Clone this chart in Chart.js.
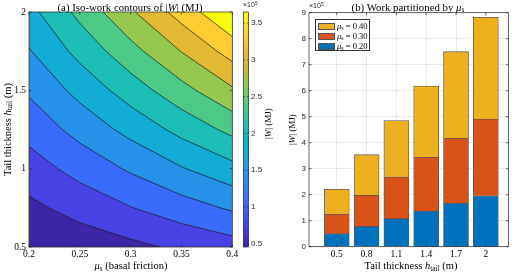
<!DOCTYPE html>
<html><head><meta charset="utf-8">
<script src="https://cdn.jsdelivr.net/npm/chart.js@4.4.1/dist/chart.umd.min.js"></script>
<style>
html,body{margin:0;padding:0;background:#fff;}
#wrap{position:relative;width:515px;height:273px;overflow:hidden;background:#fff;}
canvas{position:absolute;left:0;top:0;}
.t{position:absolute;font-family:"Liberation Serif","Times New Roman",serif;color:#000;white-space:nowrap;line-height:1;}
.s{position:absolute;font-family:"Liberation Sans",Arial,sans-serif;color:#262626;white-space:nowrap;line-height:1;}
.c{transform:translate(-50%,-50%);}
.v{writing-mode:vertical-rl;transform:rotate(180deg);text-align:center;line-height:12px;width:12px;}
sub{font-size:70%;vertical-align:-0.25em;line-height:0;}
sup{font-size:70%;vertical-align:0.5em;line-height:0;}
#leg{position:absolute;left:315px;top:19px;width:55px;height:32px;border:0.8px solid #333;background:#fff;box-sizing:border-box;}
.sw{position:absolute;left:2px;width:17px;height:7px;border:0.6px solid #555;box-sizing:border-box;}
.lt{position:absolute;left:21px;font-family:"Liberation Serif",serif;font-size:8.5px;line-height:1;white-space:nowrap;}
</style></head><body>
<div id="wrap">
<canvas id="cContour" width="515" height="273"></canvas>
<canvas id="cBar" width="515" height="273"></canvas>
<canvas id="cColorbar" width="515" height="273"></canvas>

<div class="t c" style="left:130px;top:7px;font-size:10.8px;">(a) Iso-work contours of |<i>W</i>| (MJ)</div>
<div class="t v" style="left:2px;top:30px;height:200px;font-size:10.5px;">Tail thickness <i>h</i><sub>tail</sub> (m)</div>
<div class="t c" style="left:131px;top:266px;font-size:10.5px;"><i>μ</i><sub>s</sub> (basal friction)</div>
<div class="s" style="left:243px;top:1px;font-size:7px;">×10<sup>5</sup></div>
<div class="t v" style="left:262px;top:74px;height:100px;font-size:9px;">|<i>W</i>| (MJ)</div>

<div class="t c" style="left:408px;top:7px;font-size:10.8px;">(b) Work partitioned by <i>μ</i><sub>s</sub></div>
<div class="s" style="left:309px;top:2px;font-size:7px;">×10<sup>5</sup></div>
<div class="t v" style="left:286px;top:80px;height:100px;font-size:9px;">|<i>W</i>| (MJ)</div>
<div class="t c" style="left:411px;top:266px;font-size:10.5px;">Tail thickness <i>h</i><sub>tail</sub> (m)</div>

<div id="leg">
  <div class="sw" style="top:2.5px;background:#EDB120;"></div><div class="lt" style="top:2px;"><i>μ</i><sub>s</sub> = 0.40</div>
  <div class="sw" style="top:12.5px;background:#D95319;"></div><div class="lt" style="top:12px;"><i>μ</i><sub>s</sub> = 0.30</div>
  <div class="sw" style="top:22.5px;background:#0072BD;"></div><div class="lt" style="top:22px;"><i>μ</i><sub>s</sub> = 0.20</div>
</div>
</div>
<script>
// ---------------- DATA ----------------
// Panel (a): sampled |W| field (x1e5 MJ); rows = hGrid, cols = muGrid
const muGrid = [0.2, 0.25, 0.3, 0.35, 0.4];
const hGrid  = [0.5, 0.75, 1.0, 1.25, 1.5, 1.75, 2.0];
const workGrid = [
  [0.46, 0.57, 0.68, 0.80, 0.91],
  [0.68, 0.86, 1.03, 1.20, 1.37],
  [0.91, 1.14, 1.37, 1.60, 1.82],
  [1.14, 1.43, 1.71, 2.00, 2.28],
  [1.37, 1.71, 2.05, 2.39, 2.74],
  [1.60, 2.00, 2.39, 2.79, 3.19],
  [1.82, 2.28, 2.74, 3.19, 3.65]
];
const contourLevels = [0.75, 1.04, 1.33, 1.62, 1.91, 2.20, 2.49, 2.78, 3.07, 3.36];
const colorLimits = [0.456, 3.65];
const muTicks = [0.2, 0.25, 0.3, 0.35, 0.4];
const muTickLabels = ['0.2', '0.25', '0.3', '0.35', '0.4'];
const hTicks = [0.5, 1, 1.5, 2];
const hTickLabels = ['0.5', '1', '1.5', '2'];
const colorbarTicks = [0.5, 1, 1.5, 2, 2.5, 3, 3.5];
const colorbarTickLabels = ['0.5', '1', '1.5', '2', '2.5', '3', '3.5'];

// Panel (b): stacked work per mu_s (x1e5 MJ)
const hTail = [0.5, 0.8, 1.1, 1.4, 1.7, 2.0];
const hTailLabels = ['0.5', '0.8', '1.1', '1.4', '1.7', '2'];
const workMu020 = [0.50, 0.78, 1.08, 1.37, 1.67, 1.96];
const workMu030 = [0.745, 1.20, 1.61, 2.07, 2.50, 2.95];
const workMu040 = [0.965, 1.56, 2.16, 2.74, 3.33, 3.91];
const barTicks = [0, 1, 2, 3, 4, 5, 6, 7, 8, 9];

// ---------------- STYLE ----------------
const parulaStops = [
  [0.00, [62, 38, 168]], [0.05, [69, 52, 200]], [0.10, [71, 66, 228]], [0.15, [68, 88, 246]],
  [0.20, [58, 108, 252]], [0.25, [46, 128, 246]], [0.30, [38, 146, 234]], [0.35, [29, 160, 222]],
  [0.40, [18, 172, 212]], [0.45, [10, 182, 198]], [0.50, [28, 189, 180]], [0.55, [46, 196, 160]],
  [0.60, [76, 200, 135]], [0.65, [110, 204, 110]], [0.70, [150, 200, 80]], [0.75, [190, 190, 55]],
  [0.80, [225, 185, 50]], [0.85, [248, 190, 55]], [0.90, [254, 205, 50]], [0.95, [245, 230, 35]],
  [1.00, [249, 251, 14]]
];
function parula(t) {
  t = Math.max(0, Math.min(1, t));
  for (let i = 0; i < parulaStops.length - 1; i++) {
    const [t0, c0] = parulaStops[i], [t1, c1] = parulaStops[i + 1];
    if (t <= t1) {
      const f = (t - t0) / (t1 - t0);
      const c = c0.map((v, k) => Math.round(v + f * (c1[k] - v)));
      return `rgb(${c[0]},${c[1]},${c[2]})`;
    }
  }
  const c = parulaStops[parulaStops.length - 1][1];
  return `rgb(${c[0]},${c[1]},${c[2]})`;
}
const nBands = contourLevels.length + 1;
const bandColors = Array.from({length: nBands}, (_, k) => parula(k / (nBands - 1)));

const AX = '#262626';
const GRID = 'rgba(38,38,38,0.13)';
const serif = {family: '"Liberation Serif","Times New Roman",serif', size: 9.5};
const sans = {family: '"Liberation Sans",Arial,sans-serif', size: 8};

// box + inward ticks plugin
const boxPlugin = {
  id: 'box',
  afterDraw(chart, args, opts) {
    const {ctx, chartArea: a} = chart;
    ctx.save();
    ctx.strokeStyle = AX; ctx.lineWidth = 0.7;
    ctx.strokeRect(a.left, a.top, a.right - a.left, a.bottom - a.top);
    const len = opts.len || 2.5;
    for (const id of Object.keys(chart.scales)) {
      const s = chart.scales[id];
      if (s.options.display === false) continue;
      ctx.beginPath();
      s.ticks.forEach(t => {
        const p = s.getPixelForValue(t.value);
        if (s.isHorizontal()) {
          ctx.moveTo(p, a.bottom); ctx.lineTo(p, a.bottom - len);
          ctx.moveTo(p, a.top); ctx.lineTo(p, a.top + len);
        } else {
          ctx.moveTo(a.left, p); ctx.lineTo(a.left + len, p);
          ctx.moveTo(a.right, p); ctx.lineTo(a.right - len, p);
        }
      });
      ctx.stroke();
    }
    ctx.restore();
  }
};

// ---------------- CONTOUR (a) ----------------
function contourLine(L) {
  const pts = [];
  for (let j = 0; j < muGrid.length; j++) {
    for (let i = 0; i < hGrid.length - 1; i++) {
      const a = workGrid[i][j], b = workGrid[i + 1][j];
      if ((a - L) * (b - L) <= 0 && a !== b) {
        const f = (L - a) / (b - a);
        pts.push({x: muGrid[j], y: hGrid[i] + f * (hGrid[i + 1] - hGrid[i])});
      }
    }
  }
  for (let i = 0; i < hGrid.length; i++) {
    for (let j = 0; j < muGrid.length - 1; j++) {
      const a = workGrid[i][j], b = workGrid[i][j + 1];
      if ((a - L) * (b - L) <= 0 && a !== b) {
        const f = (L - a) / (b - a);
        pts.push({x: muGrid[j] + f * (muGrid[j + 1] - muGrid[j]), y: hGrid[i]});
      }
    }
  }
  pts.sort((p, q) => (p.x - q.x) || (q.y - p.y));
  const out = [];
  for (const p of pts) {
    const l = out[out.length - 1];
    if (!l || Math.abs(l.x - p.x) > 1e-9 || Math.abs(l.y - p.y) > 1e-9) out.push(p);
  }
  return out;
}
function bandBoundary(line) {
  const muMin = muGrid[0], muMax = muGrid[muGrid.length - 1];
  const hMin = hGrid[0], hMax = hGrid[hGrid.length - 1];
  const out = line.slice();
  if (out[0].x > muMin + 1e-9) out.unshift({x: muMin, y: hMax});
  if (out[out.length - 1].x < muMax - 1e-9) out.push({x: muMax, y: hMin});
  return out;
}
const lines = contourLevels.map(contourLine);
const contourDatasets = [];
lines.forEach(l => contourDatasets.push({
  data: l, fill: false, borderColor: '#1a1a1a', borderWidth: 0.7, pointRadius: 0, tension: 0
}));
for (let k = contourLevels.length - 1; k >= 0; k--) {
  contourDatasets.push({
    data: bandBoundary(lines[k]), fill: 'end', backgroundColor: bandColors[k + 1],
    borderWidth: 0, borderColor: 'rgba(0,0,0,0)', pointRadius: 0, tension: 0
  });
}
contourDatasets.push({
  data: [{x: muGrid[0], y: hGrid[0]}, {x: muGrid[muGrid.length - 1], y: hGrid[0]}],
  fill: 'end', backgroundColor: bandColors[0], borderWidth: 0, borderColor: 'rgba(0,0,0,0)', pointRadius: 0
});

new Chart(document.getElementById('cContour'), {
  type: 'line',
  data: {datasets: contourDatasets},
  plugins: [boxPlugin],
  options: {
    responsive: false, animation: false, events: [],
    layout: {padding: {left: 0, top: 12, right: 515 - 232.3, bottom: 5}},
    plugins: {legend: {display: false}, tooltip: {enabled: false}, box: {len: 2.5}},
    scales: {
      x: {
        type: 'linear', min: muGrid[0], max: muGrid[muGrid.length - 1], z: 1,
        grid: {color: GRID, lineWidth: 0.7, drawTicks: false},
        border: {display: false},
        afterBuildTicks: s => { s.ticks = muTicks.map(v => ({value: v})); },
        ticks: {font: serif, color: '#000', padding: 2, maxRotation: 0,
                callback: (v, i) => muTickLabels[i]},
        afterFit: s => { s.height = 21; }
      },
      y: {
        type: 'linear', min: hGrid[0], max: hGrid[hGrid.length - 1], z: 1,
        grid: {color: GRID, lineWidth: 0.7, drawTicks: false},
        border: {display: false},
        afterBuildTicks: s => { s.ticks = hTicks.map(v => ({value: v})); },
        ticks: {font: serif, color: '#000', padding: 3,
                callback: (v, i) => hTickLabels[i]},
        afterFit: s => { s.width = 29; }
      }
    }
  }
});

// ---------------- COLORBAR ----------------
function cbGradient(chart) {
  const a = chart.chartArea;
  if (!a) return bandColors[0];
  const ys = chart.scales.y;
  const y0 = ys.getPixelForValue(colorLimits[0]), y1 = ys.getPixelForValue(colorLimits[1]);
  const g = chart.ctx.createLinearGradient(0, y0, 0, y1);
  parulaStops.forEach(([t]) => g.addColorStop(t, parula(t)));
  return g;
}
new Chart(document.getElementById('cColorbar'), {
  type: 'bar',
  data: {labels: [''], datasets: [{data: [colorLimits.slice()], backgroundColor: c => cbGradient(c.chart),
    barPercentage: 1, categoryPercentage: 1, borderWidth: 0}]},
  plugins: [boxPlugin],
  options: {
    responsive: false, animation: false, events: [],
    layout: {padding: {left: 243.3, top: 12, right: 515 - 248.6 - 20, bottom: 26}},
    plugins: {legend: {display: false}, tooltip: {enabled: false}, box: {len: 1.5}},
    scales: {
      x: {display: false},
      y: {
        position: 'right', min: colorLimits[0], max: colorLimits[1],
        grid: {display: false, drawTicks: false}, border: {display: false},
        afterBuildTicks: s => { s.ticks = colorbarTicks.map(v => ({value: v})); },
        ticks: {font: sans, color: AX, padding: 2.5, callback: (v, i) => colorbarTickLabels[i]},
        afterFit: s => { s.width = 20; }
      }
    }
  }
});

// ---------------- BARS (b) ----------------
const barBorder = 'rgba(70,70,70,0.9)';
new Chart(document.getElementById('cBar'), {
  type: 'bar',
  data: {
    datasets: [
      {label: 'μs = 0.20', data: hTail.map((h, i) => ({x: h, y: workMu020[i]})), backgroundColor: '#0072BD', borderColor: barBorder, borderWidth: 0.8, barThickness: 25},
      {label: 'μs = 0.30', data: hTail.map((h, i) => ({x: h, y: workMu030[i]})), backgroundColor: '#D95319', borderColor: barBorder, borderWidth: 0.8, barThickness: 25},
      {label: 'μs = 0.40', data: hTail.map((h, i) => ({x: h, y: workMu040[i]})), backgroundColor: '#EDB120', borderColor: barBorder, borderWidth: 0.8, barThickness: 25}
    ]
  },
  plugins: [boxPlugin],
  options: {
    responsive: false, animation: false, events: [],
    layout: {padding: {left: 0, top: 12.7, right: 515 - 508.5, bottom: 5.3}},
    plugins: {legend: {display: false}, tooltip: {enabled: false}, box: {len: 2.5}},
    scales: {
      x: {
        type: 'linear', stacked: true, min: 0.221, max: 2.228, offset: false,
        grid: {color: GRID, lineWidth: 0.7, drawTicks: false, offset: false},
        border: {display: false},
        afterBuildTicks: s => { s.ticks = hTail.map(v => ({value: v})); },
        ticks: {font: serif, color: '#000', padding: 2, maxRotation: 0,
                callback: (v, i) => hTailLabels[i]},
        afterFit: s => { s.height = 21; }
      },
      y: {
        stacked: true, min: 0, max: 9,
        grid: {color: GRID, lineWidth: 0.7, drawTicks: false},
        border: {display: false},
        afterBuildTicks: s => { s.ticks = barTicks.map(v => ({value: v})); },
        ticks: {font: sans, color: AX, padding: 3, callback: (v, i) => String(barTicks[i])},
        afterFit: s => { s.width = 309; }
      }
    }
  }
});
</script>
</body></html>
